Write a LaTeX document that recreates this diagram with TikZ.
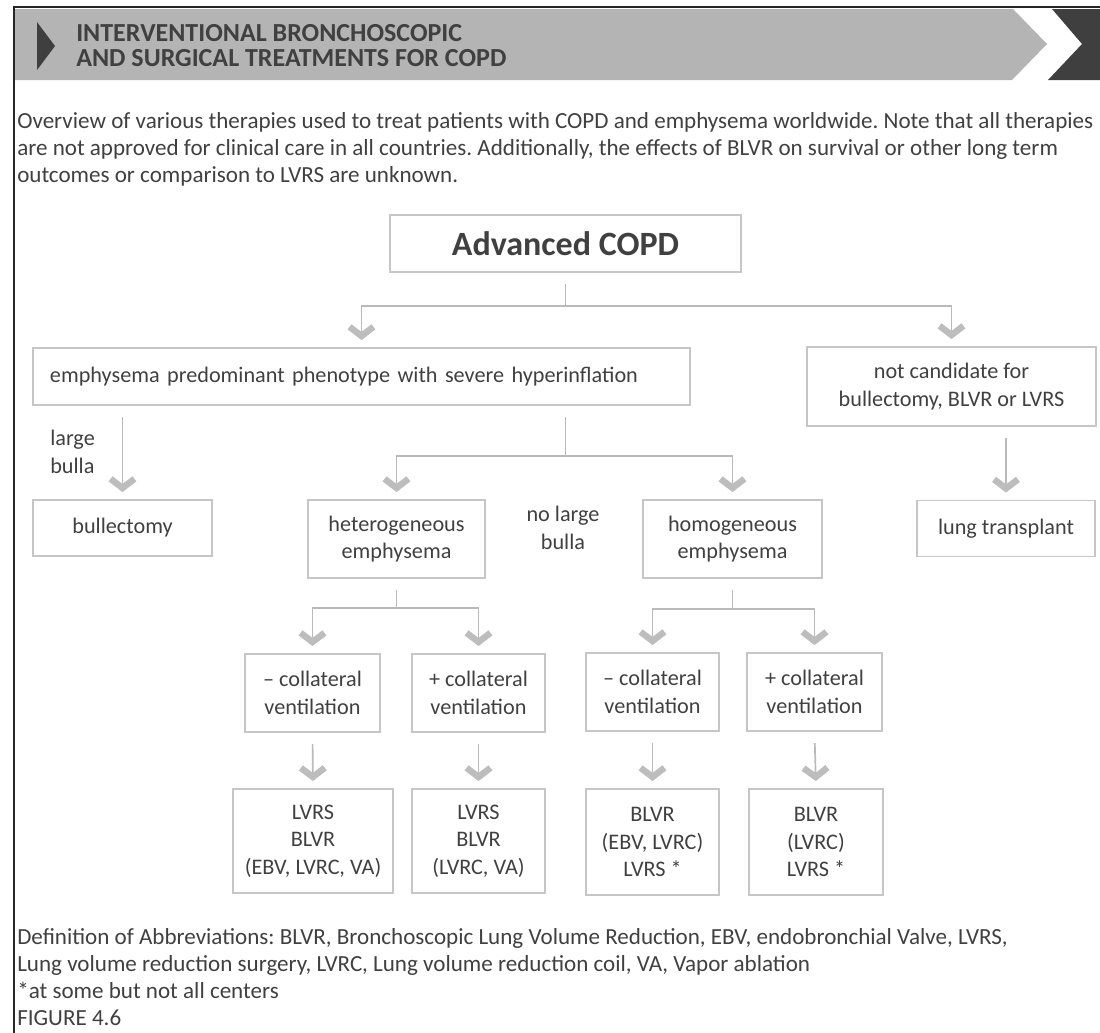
\documentclass[tikz,border=0pt]{standalone}
\usepackage{fontspec}
\setmainfont{Carlito}
\usetikzlibrary{arrows.meta,positioning}
\frenchspacing

\definecolor{ink}{HTML}{404040}
\definecolor{boxline}{HTML}{C6C6C6}
\definecolor{wiregray}{HTML}{BABABA}
\definecolor{chevgray}{HTML}{BDBDBD}
\definecolor{bandgray}{HTML}{B4B4B4}
\definecolor{banddark}{HTML}{3F3F3F}

\newcommand\boxfont{\fontsize{15.8}{19.5}\selectfont}
\newcommand\bodyfont{\fontsize{16.4}{19.3}\selectfont}

\tikzset{
  box/.style={draw=boxline, line width=1.3pt, align=center, inner sep=0pt, text=ink, font=\boxfont},
  boxsize/.style 2 args={minimum width=#1*0.025cm, minimum height=#2*0.025cm},
  note/.style={text=ink, font=\boxfont, align=left, inner sep=0pt},
  headline/.style={anchor=base west, inner sep=0pt, text=ink, font=\fontsize{18.5}{16}\selectfont\bfseries},
  wire/.style={draw=wiregray, line width=1.2pt, shorten <=8pt, shorten >=5pt,
    -{Straight Barb[length=6.5pt,width=17pt,line width=4.6pt,color=chevgray]}},
}

\begin{document}
\begin{tikzpicture}[x=0.025cm, y=-0.025cm]
\useasboundingbox (0,0) rectangle (1100,1033);

% title band
\fill[bandgray] (15,9) -- (1013,9) -- (1047,44) -- (1012,80) -- (15,80) -- cycle;
\fill[banddark] (1052,9) -- (1100,9) -- (1100,80) -- (1048,80) -- (1082,44) -- cycle;
\fill[banddark] (37,22) -- (55,46) -- (37,70) -- cycle;
\draw[black!85, line width=1.5pt] (14,1033) -- (14,7) -- (1100,7);
\node[headline] (title1) at (76,41) {INTERVENTIONAL BRONCHOSCOPIC};
\node[headline] (title2) at (76,66) {AND SURGICAL TREATMENTS FOR COPD};

\node[anchor=north west, inner sep=0pt, align=left, text=ink, font=\bodyfont] (intro) at (17,112)
  {Overview of various therapies used to treat patients with COPD and emphysema worldwide. Note that all therapies\\
   are not approved for clinical care in all countries. Additionally, the effects of BLVR on survival or other long term\\
   outcomes or comparison to LVRS are unknown.};

% boxes
\node[box, boxsize={351}{57}, font=\fontsize{24.2}{28}\selectfont\bfseries] (adv) at (565.5,243.5) {Advanced COPD};
\node[box, minimum height=57*0.025cm, text width=623*0.025cm, inner xsep=17*0.025cm, align=left] (emph) at (361.5,376.5)
  {emphysema predominant phenotype with severe hyperinflation};
\node[box, boxsize={289}{79}] (cand) at (951.5,386.5) {not candidate for\\bullectomy, BLVR or LVRS};
\node[box, boxsize={179}{56}] (bull) at (122.5,528) {bullectomy};
\node[box, boxsize={177}{78}] (het) at (396.5,539) {heterogeneous\\emphysema};
\node[box, boxsize={179}{78}] (hom) at (732.5,539) {homogeneous\\emphysema};
\node[box, boxsize={178}{56}] (lung) at (1006,528.5) {lung transplant};

\node[box, boxsize={135}{78}] (hetneg) at (312.5,693) {-- collateral\\ventilation};
\node[box, boxsize={133}{78}] (hetpos) at (478.5,693) {+ collateral\\ventilation};
\node[box, boxsize={133}{78}] (homneg) at (652.5,692) {-- collateral\\ventilation};
\node[box, boxsize={135}{78}] (hompos) at (814.5,692) {+ collateral\\ventilation};

\node[box, boxsize={160}{104}] (tx-hetneg) at (313,841) {LVRS\\BLVR\\(EBV, LVRC, VA)};
\node[box, boxsize={133}{104}] (tx-hetpos) at (478.5,841) {LVRS\\BLVR\\(LVRC, VA)};
\node[box, boxsize={133}{106}] (tx-homneg) at (652.5,842) {BLVR\\(EBV, LVRC)\\LVRS *};
\node[box, boxsize={134}{106}] (tx-hompos) at (816,842) {BLVR\\(LVRC)\\LVRS *};

\node[note, anchor=west] (large) at (50,452) {large\\bulla};
\node[note, align=center] (nolarge) at (563,528) {no large\\bulla};

% connectors
\draw[wire] (adv.south) -- ++(0,33) -| (emph.north);
\draw[wire] (adv.south) -- ++(0,33) -| (cand.north);
\draw[wire] (emph.south -| bull.north) -- (bull.north);
\draw[wire] (emph.south -| adv.south) -- ++(0,50) -| (het.north);
\draw[wire] (emph.south -| adv.south) -- ++(0,50) -| (hom.north);
\draw[wire] (cand.south -| lung.north) -- (lung.north);
\draw[wire] (het.south) -- ++(0,29) -| (hetneg.north);
\draw[wire] (het.south) -- ++(0,29) -| (hetpos.north);
\draw[wire] (hom.south) -- ++(0,30) -| (homneg.north);
\draw[wire] (hom.south) -- ++(0,30) -| (hompos.north);
\foreach \a in {hetneg,hetpos,homneg,hompos}
  \draw[wire] (\a.south) -- (tx-\a.north);

% footer
\node[anchor=north west, inner sep=0pt, align=left, text=ink, font=\bodyfont] (abbr) at (17,928)
  {Definition of Abbreviations: BLVR, Bronchoscopic Lung Volume Reduction, EBV, endobronchial Valve, LVRS,\\
   Lung volume reduction surgery, LVRC, Lung volume reduction coil, VA, Vapor ablation\\
   *at some but not all centers\\
   FIGURE 4.6};
\end{tikzpicture}
\end{document}
